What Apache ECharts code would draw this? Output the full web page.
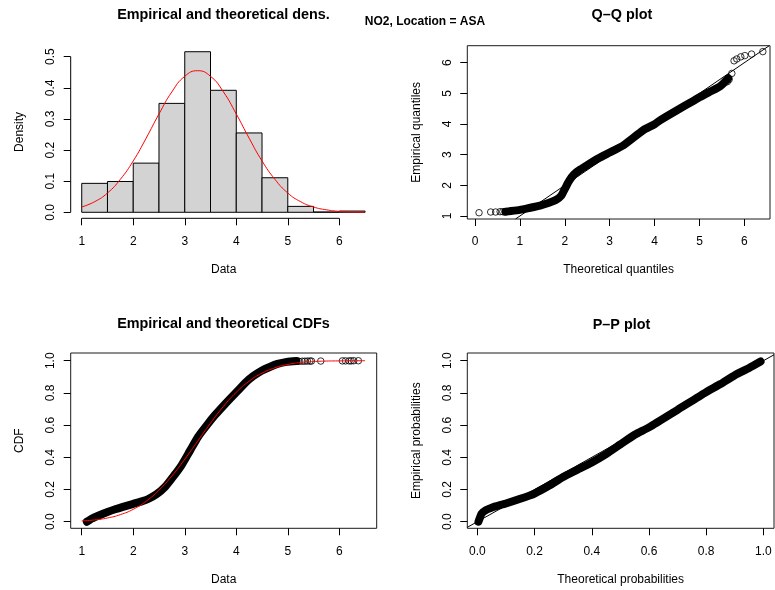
<!DOCTYPE html>
<html>
<head>
<meta charset="utf-8">
<script src="https://cdn.jsdelivr.net/npm/echarts@6/dist/echarts.min.js"></script>
<style>
html, body { margin: 0; padding: 0; background: #ffffff; }
#chart { width: 775px; height: 590px; }
</style>
</head>
<body>
<div id="chart"></div>
<script>
// ---- Histogram of the NO2 data (density scale) ----
const histBreaks  = [1.0, 1.5, 2.0, 2.5, 3.0, 3.5, 4.0, 4.5, 5.0, 5.5, 6.0, 6.5];
const histDensity = [0.093, 0.099, 0.158, 0.350, 0.516, 0.392, 0.255, 0.111, 0.019, 0.001, 0.004];

// fitted density curve (red)
const densX = [1.0, 1.25, 1.5, 1.75, 2.0, 2.25, 2.5, 2.75, 3.0, 3.25, 3.5, 3.75, 4.0, 4.25, 4.5, 4.75, 5.0, 5.25, 5.5, 5.75, 6.0, 6.25, 6.5];
const densY = [0.017, 0.034, 0.062, 0.106, 0.165, 0.238, 0.316, 0.387, 0.437, 0.455, 0.437, 0.387, 0.316, 0.238, 0.165, 0.106, 0.062, 0.034, 0.017, 0.008, 0.003, 0.001, 0.0005];

// ---- Q-Q plot ----
const qqBandTheo = [0.68, 0.8, 1.0, 1.2, 1.45, 1.65, 1.8, 1.92, 2.0, 2.1, 2.2, 2.35, 2.5, 2.75, 3.0, 3.3, 3.75, 4.0, 4.12, 4.5, 4.86, 5.0, 5.23, 5.45, 5.55, 5.64];
const qqBandEmp  = [1.14, 1.16, 1.2, 1.26, 1.34, 1.43, 1.52, 1.66, 1.88, 2.15, 2.35, 2.52, 2.66, 2.88, 3.07, 3.3, 3.8, 3.99, 4.12, 4.45, 4.75, 4.87, 5.05, 5.22, 5.35, 5.49];
const qqTailTheo = [0.09, 0.35, 0.46, 0.56, 0.62, 0.67, 5.62, 5.66, 5.72, 5.77, 5.83, 5.92, 6.01, 6.16, 6.41];
const qqTailEmp  = [1.107, 1.13, 1.13, 1.14, 1.14, 1.14, 5.38, 5.45, 5.65, 6.06, 6.12, 6.19, 6.23, 6.28, 6.36];

// ---- Empirical and theoretical CDFs ----
const cdfBandX = [1.1, 1.2, 1.32, 1.5, 1.65, 1.8, 1.97, 2.15, 2.29, 2.45, 2.62, 2.8, 2.94, 3.1, 3.26, 3.43, 3.59, 3.78, 4.01, 4.2, 4.33, 4.5, 4.66, 4.8, 4.98, 5.17];
const cdfBandP = [0.0, 0.02, 0.037, 0.06, 0.077, 0.092, 0.108, 0.125, 0.141, 0.17, 0.217, 0.29, 0.352, 0.44, 0.528, 0.6, 0.663, 0.73, 0.807, 0.87, 0.905, 0.94, 0.963, 0.98, 0.993, 0.998];
const cdfTailX = [5.22, 5.28, 5.33, 5.38, 5.43, 5.46, 5.64, 6.06, 6.12, 6.19, 6.23, 6.28, 6.37];
const cdfTailP = [0.996, 0.997, 0.997, 0.998, 0.998, 0.998, 0.998, 0.999, 0.999, 0.999, 0.999, 1.0, 1.0];
const cdfFitX = [1.0, 1.25, 1.5, 1.75, 2.0, 2.25, 2.5, 2.75, 3.0, 3.25, 3.5, 3.75, 4.0, 4.25, 4.5, 4.75, 5.0, 5.25, 5.5, 5.75, 6.0, 6.25, 6.5];
const cdfFitP = [0.005, 0.011, 0.023, 0.044, 0.077, 0.127, 0.196, 0.284, 0.388, 0.5, 0.612, 0.716, 0.804, 0.873, 0.923, 0.956, 0.977, 0.989, 0.995, 0.998, 0.999, 1.0, 1.0];

// ---- P-P plot ----
const ppBandTheo = [0.004, 0.008, 0.015, 0.03, 0.05, 0.1, 0.15, 0.2, 0.25, 0.3, 0.35, 0.4, 0.45, 0.5, 0.55, 0.6, 0.7, 0.8, 0.85, 0.9, 0.95, 0.99];
const ppBandEmp  = [0.0, 0.02, 0.05, 0.072, 0.087, 0.113, 0.142, 0.175, 0.223, 0.278, 0.323, 0.368, 0.42, 0.48, 0.54, 0.586, 0.695, 0.805, 0.855, 0.91, 0.955, 0.995];

// ---- tick labels ----
const ticksData    = [1, 2, 3, 4, 5, 6];
const ticksDensity = [0, 0.1, 0.2, 0.3, 0.4, 0.5];
const ticksQuant   = [0, 1, 2, 3, 4, 5, 6];
const ticksEmpQ    = [1, 2, 3, 4, 5, 6];
const ticksProb    = [0, 0.2, 0.4, 0.6, 0.8, 1.0];

const mainTitle = 'NO2, Location = ASA';
const panelTitles = ['Empirical and theoretical dens.', 'Q\u2013Q plot', 'Empirical and theoretical CDFs', 'P\u2013P plot'];

// ------------------------------------------------------------------
const FONT = '"Liberation Sans", Arial, Helvetica, sans-serif';
const zip = (a, b) => a.map((v, i) => [v, b[i]]);

// axis ranges of the four panels
const R = [
  { x: [0.786, 6.726], y: [-0.0193, 0.536] },
  { x: [-0.171, 6.57], y: [0.902, 6.553] },
  { x: [0.786, 6.726], y: [-0.041, 1.048] },
  { x: [-0.035, 1.037], y: [-0.041, 1.048] }
];

function xAxis(gi, range, ticks, fmt, name) {
  return {
    type: 'value', gridIndex: gi, min: range[0], max: range[1],
    axisLine: { show: false, onZero: false },
    axisTick: { show: true, inside: false, length: 7, customValues: ticks, lineStyle: { color: '#000', width: 1 } },
    axisLabel: { show: true, customValues: ticks, formatter: fmt, margin: 17, color: '#000', fontSize: 12, fontFamily: FONT },
    splitLine: { show: false },
    name: name, nameLocation: 'middle', nameGap: 45,
    nameTextStyle: { color: '#000', fontSize: 12, fontFamily: FONT }
  };
}
function yAxis(gi, range, ticks, fmt, name) {
  return {
    type: 'value', gridIndex: gi, min: range[0], max: range[1],
    axisLine: { show: false, onZero: false },
    axisTick: { show: true, inside: false, length: 7, customValues: ticks, lineStyle: { color: '#000', width: 1 } },
    axisLabel: { show: true, customValues: ticks, formatter: fmt, rotate: 90, margin: 14, color: '#000', fontSize: 12, fontFamily: FONT },
    splitLine: { show: false },
    name: name, nameLocation: 'middle', nameGap: 45, nameRotate: 90,
    nameTextStyle: { color: '#000', fontSize: 12, fontFamily: FONT }
  };
}
const f0 = v => String(Math.round(v));
const f1 = v => v.toFixed(1);

const boxStyle = { show: true, borderColor: '#1a1a1a', borderWidth: 1, backgroundColor: 'transparent' };

// R-style axis lines for the histogram panel (first to last tick)
const histAxisX = [[ticksData[0], R[0].y[0]], [ticksData[ticksData.length - 1], R[0].y[0]]];
const histAxisY = [[R[0].x[0], ticksDensity[0]], [R[0].x[0], ticksDensity[ticksDensity.length - 1]]];

// identity lines clipped to each panel
const qqLo = Math.max(R[1].x[0], R[1].y[0]), qqHi = Math.min(R[1].x[1], R[1].y[1]);
const ppLo = Math.max(R[3].x[0], R[3].y[0]), ppHi = Math.min(R[3].x[1], R[3].y[1]);

const histData = histDensity.map((d, i) => [histBreaks[i], histBreaks[i + 1], d]);

// dense runs of overlapping point symbols, drawn as one heavy stroke
const band = (gi, data) => ({
  type: 'line', xAxisIndex: gi, yAxisIndex: gi, data: data, symbol: 'none', silent: true,
  smooth: 0.2,
  lineStyle: { color: '#000', width: 8, cap: 'round', join: 'round' }, z: 2
});
const circles = (gi, data) => ({
  type: 'scatter', xAxisIndex: gi, yAxisIndex: gi, data: data, symbol: 'circle', symbolSize: 6.5, silent: true,
  itemStyle: { color: 'rgba(0,0,0,0)', borderColor: '#000', borderWidth: 1 }, z: 3
});
const thin = (gi, data, color, extra) => Object.assign({
  type: 'line', xAxisIndex: gi, yAxisIndex: gi, data: data, symbol: 'none', silent: true,
  lineStyle: { color: color, width: 1 }, z: 4
}, extra || {});

const titleText = (text, x, y, size) => ({
  type: 'text', x: x, y: y, silent: true,
  style: { text: text, align: 'center', verticalAlign: 'middle', fontSize: size, fontWeight: 'bold', fontFamily: FONT, fill: '#000' }
});

const option = {
  animation: false,
  backgroundColor: '#ffffff',
  grid: [
    { left: 70.7, top: 45.5, width: 306, height: 172.8, show: false, outerBoundsMode: 'none' },
    Object.assign({ left: 467.3, top: 45.7, width: 302.7, height: 173.3, outerBoundsMode: 'none' }, boxStyle),
    Object.assign({ left: 70.7, top: 353, width: 306, height: 175.3, outerBoundsMode: 'none' }, boxStyle),
    Object.assign({ left: 467.3, top: 353, width: 306.7, height: 175.3, outerBoundsMode: 'none' }, boxStyle)
  ],
  xAxis: [
    xAxis(0, R[0].x, ticksData, f0, 'Data'),
    xAxis(1, R[1].x, ticksQuant, f0, 'Theoretical quantiles'),
    xAxis(2, R[2].x, ticksData, f0, 'Data'),
    xAxis(3, R[3].x, ticksProb, f1, 'Theoretical probabilities')
  ],
  yAxis: [
    yAxis(0, R[0].y, ticksDensity, f1, 'Density'),
    yAxis(1, R[1].y, ticksEmpQ, f0, 'Empirical quantiles'),
    yAxis(2, R[2].y, ticksProb, f1, 'CDF'),
    yAxis(3, R[3].y, ticksProb, f1, 'Empirical probabilities')
  ],
  graphic: [
    titleText(panelTitles[0], 223.5, 15.5, 14.4),
    titleText(mainTitle, 425, 21.5, 12),
    titleText(panelTitles[1], 622, 15.5, 14.4),
    titleText(panelTitles[2], 223.5, 324, 14.4),
    titleText(panelTitles[3], 621.5, 325, 14.4)
  ],
  series: [
    // histogram
    {
      type: 'custom', xAxisIndex: 0, yAxisIndex: 0, data: histData, silent: true,
      encode: { x: [0, 1], y: 2 },
      renderItem: function (params, api) {
        const p0 = api.coord([api.value(0), api.value(2)]);
        const p1 = api.coord([api.value(1), 0]);
        return {
          type: 'rect',
          shape: { x: p0[0], y: p0[1], width: p1[0] - p0[0], height: p1[1] - p0[1] },
          style: { fill: '#d3d3d3', stroke: '#000', lineWidth: 1 }
        };
      }
    },
    thin(0, zip(densX, densY), '#ff0000', { smooth: true }),
    thin(0, histAxisX, '#000', { clip: false }),
    thin(0, histAxisY, '#000', { clip: false }),

    // Q-Q plot
    band(1, zip(qqBandTheo, qqBandEmp)),
    circles(1, zip(qqTailTheo, qqTailEmp)),
    thin(1, [[qqLo, qqLo], [qqHi, qqHi]], '#000'),

    // CDFs
    band(2, zip(cdfBandX, cdfBandP)),
    circles(2, zip(cdfTailX, cdfTailP)),
    thin(2, zip(cdfFitX, cdfFitP), '#ff0000', { smooth: true }),

    // P-P plot
    band(3, zip(ppBandTheo, ppBandEmp)),
    thin(3, [[ppLo, ppLo], [ppHi, ppHi]], '#000')
  ]
};

const chart = echarts.init(document.getElementById('chart'), null, { renderer: 'canvas' });
chart.setOption(option);
</script>
</body>
</html>
